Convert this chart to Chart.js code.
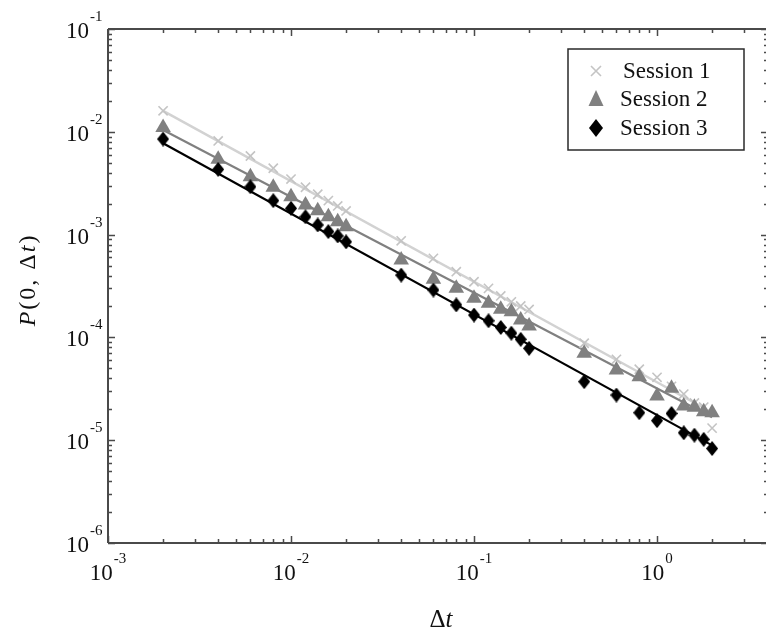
<!DOCTYPE html>
<html>
<head>
<meta charset="utf-8">
<script src="https://cdn.jsdelivr.net/npm/chart.js@4.4.0/dist/chart.umd.min.js"></script>
<style>
  html, body { margin: 0; padding: 0; background: #fff; }
  #wrap { width: 766px; height: 632px; }
</style>
</head>
<body>
<div id="wrap"><canvas id="chart" width="766" height="632"></canvas></div>
<script>
// --- data ---
const dtValues = [0.002, 0.004, 0.006, 0.008, 0.010, 0.012, 0.014, 0.016, 0.018, 0.020,
                  0.04, 0.06, 0.08, 0.10, 0.12, 0.14, 0.16, 0.18, 0.20,
                  0.4, 0.6, 0.8, 1.0, 1.2, 1.4, 1.6, 1.8, 2.0];
const session1 = [0.0160, 0.00815, 0.00582, 0.00442, 0.00347, 0.00289, 0.00247, 0.00214, 0.00190, 0.00170,
                  8.7e-4, 5.87e-4, 4.36e-4, 3.48e-4, 3.0e-4, 2.53e-4, 2.22e-4, 2.02e-4, 1.87e-4,
                  8.77e-5, 6.12e-5, 4.9e-5, 4.09e-5, 3.34e-5, 2.81e-5, 2.3e-5, 2.1e-5, 1.31e-5];
const session2 = [0.0110, 0.0054, 0.00366, 0.00288, 0.00234, 0.00194, 0.00171, 0.00149, 0.00133, 0.00119,
                  5.66e-4, 3.67e-4, 3.0e-4, 2.40e-4, 2.15e-4, 1.88e-4, 1.78e-4, 1.48e-4, 1.29e-4,
                  7.0e-5, 4.82e-5, 4.15e-5, 2.69e-5, 3.20e-5, 2.15e-5, 2.09e-5, 1.89e-5, 1.85e-5];
const session3 = [0.0085, 0.00431, 0.00292, 0.00214, 0.00180, 0.00149, 0.00124, 0.00107, 0.00097, 0.00085,
                  4.04e-4, 2.89e-4, 2.07e-4, 1.65e-4, 1.45e-4, 1.25e-4, 1.10e-4, 9.58e-5, 7.83e-5,
                  3.71e-5, 2.75e-5, 1.85e-5, 1.55e-5, 1.82e-5, 1.18e-5, 1.12e-5, 1.02e-5, 8.3e-6];

// power-law fit lines (end points)
const fitX = [0.002, 2];
const fit1 = [0.0160, 1.86e-5];
const fit2 = [0.0104, 1.67e-5];
const fit3 = [0.00773, 8.9e-6];

const legendLabels = ['Session 1', 'Session 2', 'Session 3'];
const xDecades = [-3, -2, -1, 0];
const yDecades = [-6, -5, -4, -3, -2, -1];
const X_MIN = 1e-3, X_MAX = 3.94, Y_MIN = 1e-6, Y_MAX = 1e-1;

const colors = { s1: '#c4c4c4', s1line: '#d2d2d2', s2: '#808080', s3: '#000000' };
const SERIF = '"Liberation Serif", "DejaVu Serif", serif';

// --- helpers ---
function pairs(xs, ys) { return xs.map((x, i) => ({ x: x, y: ys[i] })); }

function logTicks(minVal, maxVal) {
  const t = [];
  let e = Math.round(Math.log10(minVal));
  while (true) {
    for (let k = 1; k < 10; k++) {
      const v = k * Math.pow(10, e);
      if (v > maxVal * 1.0001) return t;
      if (v >= minVal * 0.9999) t.push(v);
    }
    e++;
  }
}

// diamond marker, a bit taller than wide
function makeDiamond(w, h, color) {
  const c = document.createElement('canvas');
  c.width = w; c.height = h;
  const g = c.getContext('2d');
  g.fillStyle = color;
  g.beginPath();
  g.moveTo(w / 2, 0); g.lineTo(w, h / 2); g.lineTo(w / 2, h); g.lineTo(0, h / 2);
  g.closePath(); g.fill();
  return c;
}
const diamondImg = makeDiamond(12, 15, colors.s3);

function drawMarker(ctx, kind, x, y) {
  ctx.save();
  if (kind === 0) {
    ctx.strokeStyle = colors.s1; ctx.lineWidth = 1.6;
    const r = 5;
    ctx.beginPath();
    ctx.moveTo(x - r, y - r); ctx.lineTo(x + r, y + r);
    ctx.moveTo(x + r, y - r); ctx.lineTo(x - r, y + r);
    ctx.stroke();
  } else if (kind === 1) {
    ctx.fillStyle = colors.s2;
    ctx.beginPath();
    ctx.moveTo(x, y - 9); ctx.lineTo(x + 7.5, y + 7); ctx.lineTo(x - 7.5, y + 7);
    ctx.closePath(); ctx.fill();
  } else {
    ctx.fillStyle = colors.s3;
    ctx.beginPath();
    ctx.moveTo(x, y - 9); ctx.lineTo(x + 7, y); ctx.lineTo(x, y + 9); ctx.lineTo(x - 7, y);
    ctx.closePath(); ctx.fill();
  }
  ctx.restore();
}

function drawPow(ctx, exp, x, y, align) {
  // "10" with superscript exponent
  const base = '10', sup = String(exp);
  ctx.font = '23px ' + SERIF;
  const wb = ctx.measureText(base).width;
  ctx.font = '15px ' + SERIF;
  const ws = ctx.measureText(sup).width;
  let left;
  if (align === 'right') left = x - wb;          // base ends at x
  else left = x - (wb + ws + 1) / 2;             // centered
  ctx.textAlign = 'left';
  ctx.textBaseline = 'alphabetic';
  ctx.font = '23px ' + SERIF;
  ctx.fillText(base, left, y);
  ctx.font = '15px ' + SERIF;
  ctx.fillText(sup, left + wb + 1, y - 17);
}

// text made of upright/italic pieces, with optional extra spacing between characters
function drawRich(ctx, parts, size, cx, cy, gap) {
  const chars = [];
  parts.forEach(p => {
    for (const ch of p[0]) chars.push([ch, p[1]]);
  });
  let total = 0;
  chars.forEach(c => {
    ctx.font = (c[1] ? 'italic ' : '') + size + 'px ' + SERIF;
    c.w = ctx.measureText(c[0]).width;
    total += c.w;
  });
  total += gap * (chars.length - 1);
  let x = cx - total / 2;
  ctx.textAlign = 'left';
  ctx.textBaseline = 'middle';
  chars.forEach(c => {
    ctx.font = (c[1] ? 'italic ' : '') + size + 'px ' + SERIF;
    ctx.fillText(c[0], x, cy);
    x += c.w + gap;
  });
}

// frame, inward ticks, labels, titles and legend
const decorPlugin = {
  id: 'decor',
  afterDraw(chart) {
    const ctx = chart.ctx, a = chart.chartArea;
    const xs = chart.scales.x, ys = chart.scales.y;
    const rightEdge = a.right + 2;
    ctx.save();
    ctx.strokeStyle = '#4a4a4a';
    ctx.lineWidth = 2;
    ctx.beginPath();
    ctx.moveTo(a.left, a.top); ctx.lineTo(rightEdge, a.top);
    ctx.moveTo(a.left, a.top); ctx.lineTo(a.left, a.bottom);
    ctx.moveTo(a.left, a.bottom); ctx.lineTo(rightEdge, a.bottom);
    ctx.stroke();

    ctx.lineWidth = 1.5;
    ctx.beginPath();
    logTicks(X_MIN, X_MAX).forEach(v => {
      const px = Math.round(xs.getPixelForValue(v)) + 0.5;
      const major = Math.abs(Math.log10(v) - Math.round(Math.log10(v))) < 1e-6;
      const len = major ? 7 : 4;
      ctx.moveTo(px, a.bottom); ctx.lineTo(px, a.bottom - len);
      ctx.moveTo(px, a.top); ctx.lineTo(px, a.top + len);
    });
    logTicks(Y_MIN, Y_MAX).forEach(v => {
      const py = Math.round(ys.getPixelForValue(v)) + 0.5;
      const major = Math.abs(Math.log10(v) - Math.round(Math.log10(v))) < 1e-6;
      const len = major ? 7 : 4;
      ctx.moveTo(a.left, py); ctx.lineTo(a.left + len, py);
      ctx.moveTo(rightEdge, py); ctx.lineTo(rightEdge - len, py);
    });
    ctx.stroke();

    ctx.fillStyle = '#111';
    xDecades.forEach(e => {
      const px = xs.getPixelForValue(Math.pow(10, e));
      drawPow(ctx, e, px, a.bottom + 37, 'center');
    });
    yDecades.forEach(e => {
      const py = ys.getPixelForValue(Math.pow(10, e));
      drawPow(ctx, e, a.left - 19, py + 9, 'right');
    });

    // axis titles
    drawRich(ctx, [['\u0394', false], ['t', true]], 25, 441, 620, 0);
    ctx.save();
    ctx.translate(29, 281);
    ctx.rotate(-Math.PI / 2);
    drawRich(ctx, [['P', true], ['(0, ', false], ['\u0394', false], ['t', true], [')', false]], 24, 0, 0, 2);
    ctx.restore();

    // legend
    ctx.strokeStyle = '#2a2a2a';
    ctx.lineWidth = 1.5;
    ctx.strokeRect(568, 49, 176, 101);
    const rowY = [71, 99, 128];
    legendLabels.forEach((lab, i) => {
      drawMarker(ctx, i, 596, rowY[i]);
      ctx.fillStyle = '#111';
      ctx.font = '23px ' + SERIF;
      ctx.textAlign = 'left';
      ctx.textBaseline = 'middle';
      ctx.fillText(lab, i === 0 ? 623 : 620, rowY[i] + 1);
    });
    ctx.restore();
  }
};

new Chart(document.getElementById('chart'), {
  type: 'scatter',
  data: {
    datasets: [
      { label: 'fit1', data: pairs(fitX, fit1), showLine: true, borderColor: colors.s1line,
        borderWidth: 2.5, pointRadius: 0, order: 10 },
      { label: 'fit2', data: pairs(fitX, fit2), showLine: true, borderColor: colors.s2,
        borderWidth: 2.2, pointRadius: 0, order: 9 },
      { label: 'fit3', data: pairs(fitX, fit3), showLine: true, borderColor: colors.s3,
        borderWidth: 2.2, pointRadius: 0, order: 8 },
      { label: legendLabels[0], data: pairs(dtValues, session1), pointStyle: 'crossRot',
        pointRadius: 6.5, borderColor: colors.s1, borderWidth: 1.6, order: 3 },
      { label: legendLabels[1], data: pairs(dtValues, session2), pointStyle: 'triangle',
        pointRadius: 9, backgroundColor: colors.s2, borderColor: colors.s2, borderWidth: 0, order: 2 },
      { label: legendLabels[2], data: pairs(dtValues, session3), pointStyle: diamondImg,
        order: 1 }
    ]
  },
  options: {
    responsive: false,
    animation: false,
    layout: { autoPadding: false, padding: { top: 29, right: -10, left: 0, bottom: 0 } },
    plugins: { legend: { display: false }, tooltip: { enabled: false } },
    scales: {
      x: {
        type: 'logarithmic', min: X_MIN, max: X_MAX,
        grid: { display: false }, border: { display: false },
        ticks: { display: false },
        afterFit: s => { s.height = 89; s.paddingLeft = 0; s.paddingRight = 0; }
      },
      y: {
        type: 'logarithmic', min: Y_MIN, max: Y_MAX,
        grid: { display: false }, border: { display: false },
        ticks: { display: false },
        afterFit: s => { s.width = 108; s.paddingTop = 0; s.paddingBottom = 0; }
      }
    }
  },
  plugins: [decorPlugin]
});
</script>
</body>
</html>
